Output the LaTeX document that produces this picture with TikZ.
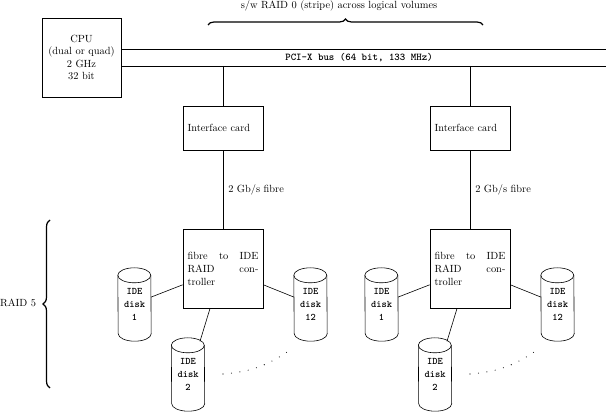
\documentclass[tikz,border=0pt]{standalone}
\usetikzlibrary{decorations.pathreplacing}
\begin{document}
\begin{tikzpicture}[x=1pt,y=1pt,
  font=\fontsize{10.4}{12.5}\selectfont,
  box/.style={draw,line width=0.6pt,inner sep=0pt},
  ctrlbox/.style={box,minimum width=80pt,minimum height=79pt,text width=71pt,align=justify,font=\fontsize{10.4}{13}\selectfont},
  ifbox/.style={box,minimum width=80pt,minimum height=44pt,text width=71pt,align=left},
  disk/.style={inner sep=0pt,minimum width=33pt,minimum height=73pt,align=center,font=\fontsize{10}{13}\selectfont\ttfamily\bfseries},
  wire/.style={line width=0.6pt},
  dots/.style={line width=1.1pt,line cap=round,dash pattern=on 0pt off 8.5pt},
  bracestyle/.style={line width=1.2pt,decorate}]
\useasboundingbox (0,0) rectangle (606,-414);

% CPU
\node[box,minimum width=79pt,minimum height=79pt,align=center] (cpu) at (81.5,-57.5)
  {CPU\\(dual or quad)\\2 GHz\\32 bit};

% bus
\coordinate (busTL) at (121,-49);
\coordinate (busTR) at (606,-49);
\coordinate (busBL) at (121,-66);
\coordinate (busBR) at (606,-66);
\draw[wire] (busTL) -- (busTR);
\draw[wire] (busBL) -- (busBR);
\node[font=\fontsize{10.4}{12.5}\selectfont\ttfamily\bfseries,inner sep=0pt] (buslabel) at (359,-58) {PCI-X bus (64 bit, 133 MHz)};

% top brace
\coordinate (brA) at (208,-25);
\coordinate (brB) at (483,-25);
\draw[bracestyle,decoration={brace,amplitude=6pt}] (brA) -- (brB);
\node[inner sep=0pt] (title) at (339,-6) {s/w RAID 0 (stripe) across logical volumes};

% left brace
\coordinate (lbA) at (50,-388);
\coordinate (lbB) at (50,-220);
\draw[bracestyle,decoration={brace,amplitude=7pt}] (lbA) -- (lbB);
\node[inner sep=0pt,anchor=west] (raid5) at (0,-303) {RAID 5};

% two groups
\foreach \g/\dx in {l/0,r/247} {
  \node[ifbox] (\g if) at (223+\dx,-128) {Interface card};
  \node[ctrlbox] (\g c) at (223+\dx,-268.5) {fibre to IDE\linebreak RAID con-\linebreak troller};
  \draw[wire] (\g if.north |- busBL) -- (\g if.north);
  \draw[wire] (\g if.south) -- node[right,inner sep=0pt,xshift=5pt] (\g fib) {2 Gb/s fibre} (\g c.north);
  \node[disk] (\g d1) at (134.5+\dx,-304.5) {IDE\\disk\\1};
  \node[disk] (\g d2) at (188+\dx,-374.5) {IDE\\disk\\2};
  \node[disk] (\g d12) at (310.5+\dx,-304.5) {IDE\\disk\\12};
  \foreach \d in {\g d1,\g d2,\g d12} {
    \draw[wire] ([yshift=-7.5pt]\d.north west) arc[start angle=180,end angle=0,x radius=16.5pt,y radius=7.5pt]
      -- ([yshift=7.5pt]\d.south east) arc[start angle=0,end angle=-180,x radius=16.5pt,y radius=7.5pt] -- cycle;
    \draw[wire] ([yshift=-7.5pt]\d.north west) arc[start angle=180,end angle=360,x radius=16.5pt,y radius=7.5pt];
  }
  \draw[wire] (\g c.202) -- (\g d1.24);
  \draw[wire] (\g c.-22) -- (\g d12.156);
  \draw[wire] (\g c.252) -- ([shift={(12pt,-3.5pt)}]\g d2.north);
  \coordinate (\g dotA) at (223+\dx,-374);
  \coordinate (\g dotB) at (290+\dx,-350);
  \draw[dots] (\g dotA) to[bend right=15] (\g dotB);
}
\end{tikzpicture}
\end{document}
